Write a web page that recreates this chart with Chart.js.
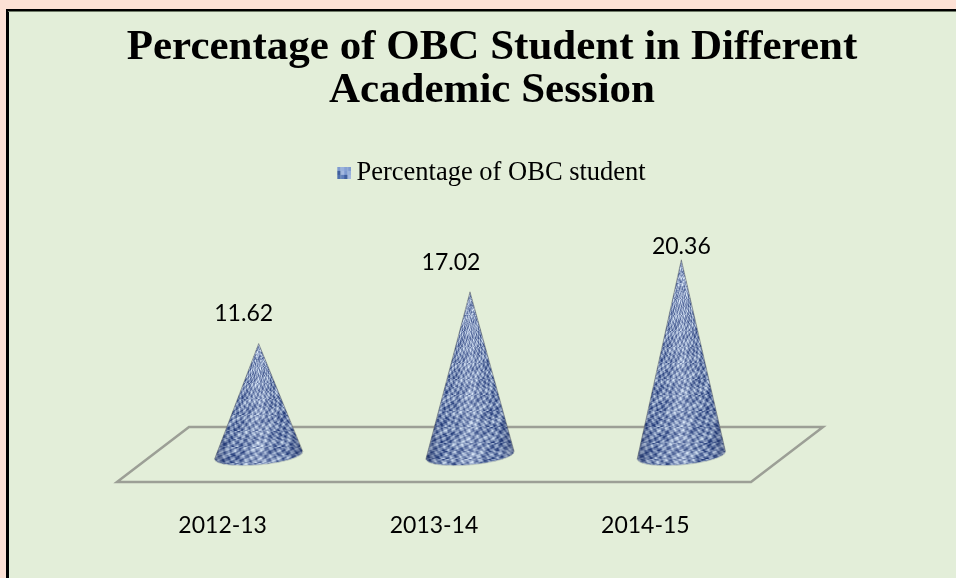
<!DOCTYPE html>
<html><head><meta charset="utf-8">
<style>html,body{margin:0;padding:0;background:#FDE1D5;overflow:hidden}canvas{display:block}</style>
<script src="https://cdn.jsdelivr.net/npm/chart.js@4"></script>
</head><body><div style="width:956px;height:578px"><canvas id="c" width="956" height="578"></canvas></div>
<script>
const categories = ['2012-13','2013-14','2014-15'];
const seriesName = 'Percentage of OBC student';
const seriesValues = [11.62,17.02,20.36];
const chartTitle = ['Percentage of OBC Student in Different','Academic Session'];

const PEACH='#FDE1D5', PANEL='#E3EED9', FLOOR='#9C9F96';
const DEPTH=36, LABEL_DX=[-15,-19,0], LABEL_DY=[-30,-29,-13];

function makeTexture(w,h){
  const raw=document.createElement('canvas');raw.width=w;raw.height=h;
  const g=raw.getContext('2d'),img=g.createImageData(w,h);
  for(let y=0;y<h;y++)for(let x=0;x<w;x++){
    const band=Math.floor(y/8);
    const row=Math.sin(y*Math.PI/4+1.1*Math.sin(x*0.23));
    const dots=Math.sin(x*0.62+1.7*Math.sin(y*0.17)+(band%2)*2.1+band*0.9);
    const fine=Math.sin(x*1.3+y*0.9)*Math.sin(x*0.4-y*1.7);
    const big=Math.sin(x*0.13+y*0.29)*Math.sin(x*0.07-y*0.11);
    let v=0.47+0.42*row*dots+0.12*big+0.05*row+0.14*fine;
    v=Math.max(0,Math.min(1,v));
    const i=(y*w+x)*4;
    img.data[i]=30+190*v;img.data[i+1]=55+180*v;img.data[i+2]=120+130*v;img.data[i+3]=255;
  }
  g.putImageData(img,0,0);
  const t=document.createElement('canvas');t.width=w;t.height=h;
  const b=t.getContext('2d');b.filter='blur(0.6px)';b.drawImage(raw,0,0);
  return t;
}
const texture=makeTexture(100,260);
function makeSwatch(){
  const t=document.createElement('canvas');t.width=28;t.height=12;
  const g=t.getContext('2d');
  const cols=['#7E9AD0','#4F70AE','#98B0DC','#5F7EBB','#86A1D4','#3F5F9E','#7E9AD0','#A3B8E0','#5A79B6'];
  for(let j=0;j<3;j++)for(let i=0;i<4;i++){g.fillStyle=cols[(i*2+j*5)%9];g.fillRect(14+i*3.5,j*4,3.5,4);}
  return t;
}
const swatchImage=makeSwatch();

class ConeElement extends Chart.BarElement{
  draw(ctx){
    const cx=this.x+DEPTH, tip=this.y, base=this.base, rx=this.width/2, ry=9.5;
    const rot=-5*Math.PI/180, h=base-tip;
    const sideY=base+0.5;
    ctx.save();
    ctx.beginPath();
    ctx.moveTo(cx,tip);
    ctx.lineTo(cx+rx*Math.cos(rot),sideY+rx*Math.sin(rot));
    ctx.ellipse(cx,sideY,rx,ry,rot,0,Math.PI,false);
    ctx.closePath();
    ctx.clip();
    for(let y=Math.floor(tip);y<base+14;y++){
      const w=Math.min(rx,rx*(y-tip)/h)+1;
      ctx.drawImage(texture,0,(y-Math.floor(tip))%texture.height,texture.width,1,cx-w,y,2*w,1);
    }
    const g=ctx.createLinearGradient(cx-rx,0,cx+rx,0);
    g.addColorStop(0,'rgba(45,55,90,0.45)');
    g.addColorStop(0.2,'rgba(50,70,120,0.1)');
    g.addColorStop(0.5,'rgba(235,242,255,0.25)');
    g.addColorStop(0.8,'rgba(50,70,120,0.1)');
    g.addColorStop(1,'rgba(45,55,90,0.45)');
    ctx.fillStyle=g;
    ctx.fillRect(cx-rx-2,tip-1,2*rx+4,h+ry+16);
    ctx.restore();
    ctx.save();
    ctx.strokeStyle='rgba(100,105,110,0.55)';ctx.lineWidth=1;
    ctx.beginPath();
    ctx.moveTo(cx-rx*Math.cos(rot),sideY-rx*Math.sin(rot));
    ctx.lineTo(cx,tip);
    ctx.lineTo(cx+rx*Math.cos(rot),sideY+rx*Math.sin(rot));
    ctx.stroke();
    ctx.strokeStyle='rgba(200,210,195,0.8)';
    ctx.beginPath();ctx.ellipse(cx,sideY,rx,ry,rot,0,Math.PI,false);ctx.stroke();
    ctx.restore();
  }
}
ConeElement.id='cone';
ConeElement.defaults=Chart.BarElement.defaults;
class ConeController extends Chart.BarController{}
ConeController.id='cone';
ConeController.defaults=Object.assign({},Chart.BarController.defaults,{dataElementType:'cone'});
ConeController.overrides=Chart.BarController.overrides;
Chart.register(ConeElement,ConeController);

const framePlugin={id:'frame',
  afterLayout(ch){ ch.legend.right-=7; },
  beforeDraw(ch){
    const c=ch.ctx;
    c.save();
    c.fillStyle=PEACH;c.fillRect(0,0,956,578);
    c.fillStyle='#000';c.fillRect(6,9,950,569);
    c.fillStyle='#6f7a68';c.fillRect(8,11,948,1);
    c.fillStyle=PANEL;c.fillRect(9,12,947,566);
    c.restore();
  },
  beforeDatasetsDraw(ch){
    const c=ch.ctx,a=ch.chartArea;
    c.save();
    c.strokeStyle=FLOOR;c.lineWidth=2.5;c.lineJoin='miter';
    c.beginPath();
    c.moveTo(a.left,a.bottom+27);
    c.lineTo(a.left+2*DEPTH,a.bottom-28);
    c.lineTo(a.right+2*DEPTH,a.bottom-28);
    c.lineTo(a.right,a.bottom+27);
    c.closePath();c.stroke();
    c.restore();
  },
  afterDatasetsDraw(ch){
    const c=ch.ctx,meta=ch.getDatasetMeta(0);
    c.save();
    c.fillStyle='#000';c.font='23px Lato';c.textAlign='center';c.textBaseline='middle';
    meta.data.forEach((el,i)=>{
      c.fillText(seriesValues[i].toFixed(2),el.x+DEPTH+LABEL_DX[i],el.y+LABEL_DY[i]);
    });
    c.restore();
  }
};

new Chart(document.getElementById('c'),{
  type:'cone',
  plugins:[framePlugin],
  data:{labels:categories,datasets:[{label:seriesName,data:seriesValues,backgroundColor:'#6F8CC4',borderWidth:0,clip:false,
    categoryPercentage:0.42,barPercentage:1,pointStyle:swatchImage}]},
  options:{
    responsive:false,animation:false,devicePixelRatio:1,
    layout:{padding:{left:28,right:0,top:0,bottom:0}},
    plugins:{
      title:{display:true,text:chartTitle,color:'#000',font:{family:'Liberation Serif',size:43,weight:'bold',lineHeight:1.0},
        padding:{top:26,bottom:47.6}},
      legend:{display:true,position:'top',labels:{color:'#000',font:{family:'Liberation Serif',size:26.5},usePointStyle:true,pointStyleWidth:12,boxHeight:12,padding:0}},
      tooltip:{enabled:false}
    },
    scales:{
      x:{type:'category',offset:true,grid:{display:false,drawTicks:false},border:{display:false},
        ticks:{color:'#000',font:{family:'Lato',size:23},padding:57,maxRotation:0},
        afterFit(s){s.height=123;}},
      y:{type:'linear',position:'left',min:0,max:27,grid:{display:false},border:{display:false},
        ticks:{display:false},afterFit(s){s.width=89;}},
      yr:{type:'linear',position:'right',min:0,max:27,grid:{display:false},border:{display:false},
        ticks:{display:false},afterFit(s){s.width=205;}}
    }
  }
});
</script></body></html>
